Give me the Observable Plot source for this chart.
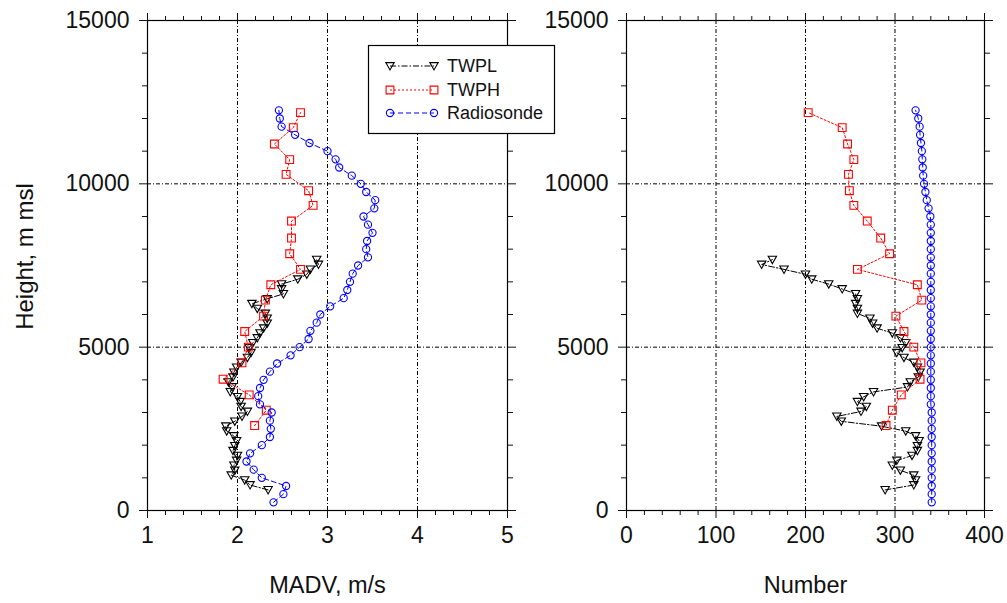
<!DOCTYPE html>
<html><head><meta charset="utf-8">
<script src="https://cdn.jsdelivr.net/npm/d3@7"></script>
<script src="https://cdn.jsdelivr.net/npm/@observablehq/plot@0.6"></script>
<style>
body{margin:0;background:#fff;}
#wrap{position:relative;width:1007px;height:603px;overflow:hidden;font-family:"Liberation Sans",Arial,sans-serif;}
#wrap svg{position:absolute;top:0;}
</style></head><body><div id="wrap"></div>
<script>
// ---- TWPL (black, triangles) ----
const twplHeight = [630,780,930,1080,1230,1380,1530,1680,1830,1980,2130,2280,2430,2580,2730,2880,3030,3180,3330,3480,3630,3780,3930,4080,4230,4380,4530,4680,4830,4980,5130,5280,5430,5580,5730,5880,6030,6180,6330,6480,6630,6780,6930,7080,7230,7380,7530,7680];
const twplMadv = [2.34,2.14,2.08,1.93,1.97,1.96,1.99,2.00,1.95,1.97,1.99,1.96,1.88,1.87,1.97,2.05,2.11,2.04,2.03,2.00,1.92,1.94,1.90,1.95,1.96,1.99,2.04,2.11,2.15,2.13,2.17,2.22,2.25,2.29,2.33,2.33,2.31,2.22,2.16,2.33,2.51,2.49,2.49,2.67,2.77,2.81,2.90,2.88];
const twplNumber = [289,321,323,321,306,297,302,319,325,325,327,323,312,285,240,235,262,268,258,265,276,314,317,326,328,325,321,310,302,308,312,306,297,280,275,272,258,258,256,258,256,241,226,207,200,176,151,163];
// ---- TWPH (red, squares) ----
const twphHeight = [2600,3070,3540,4020,4520,5000,5480,5950,6440,6910,7380,7860,8340,8860,9340,9790,10290,10740,11220,11720,12180];
const twphMadv = [2.19,2.32,2.13,1.84,2.05,2.12,2.08,2.29,2.31,2.37,2.70,2.58,2.60,2.60,2.84,2.79,2.54,2.58,2.41,2.62,2.70];
const twphNumber = [290,297,307,328,329,321,310,301,330,325,258,294,284,269,254,249,248,254,247,241,203];
// ---- Radiosonde (blue, circles) ----
const sondeHeight = [250,500,750,1000,1250,1500,1750,2000,2250,2500,2750,3000,3250,3500,3750,4000,4250,4500,4750,5000,5250,5500,5750,6000,6250,6500,6750,7000,7250,7500,7750,8000,8250,8500,8750,9000,9250,9500,9750,10000,10250,10500,10750,11000,11250,11500,11750,12000,12250];
const sondeMadv = [2.40,2.51,2.54,2.27,2.18,2.10,2.14,2.27,2.36,2.37,2.36,2.38,2.25,2.23,2.25,2.29,2.36,2.44,2.59,2.69,2.79,2.81,2.88,2.92,3.03,3.18,3.22,3.25,3.28,3.34,3.45,3.43,3.44,3.50,3.45,3.40,3.52,3.53,3.43,3.37,3.27,3.13,3.09,3.00,2.80,2.64,2.49,2.47,2.46];
const sondeNumber = [341,341,341,341,341,341,341,341,341,341,341,341,340,340,340,340,340,340,340,340,340,340,340,340,340,340,340,340,340,340,340,340,340,340,340,339.5,337.5,335.5,334,332.5,331.5,331,330.5,330,329,328,327.5,326,323];

// ---- ticks ----
const yMajor = [0,5000,10000,15000];
const yMinor = [1000,2000,3000,4000,6000,7000,8000,9000,11000,12000,13000,14000];
const yGrid = [5000,10000];
const madvMajor = [1,2,3,4,5];
const madvMinor = [1.2,1.4,1.6,1.8,2.2,2.4,2.6,2.8,3.2,3.4,3.6,3.8,4.2,4.4,4.6,4.8];
const madvGrid = [2,3,4];
const numMajor = [0,100,200,300,400];
const numMinor = [20,40,60,80,120,140,160,180,220,240,260,280,320,340,360,380];
const numGrid = [100,200,300];

const seriesNames = ["TWPL","TWPH","Radiosonde"];

const twpl = twplHeight.map((h,i)=>({h, madv: twplMadv[i], n: twplNumber[i]}));
const twph = twphHeight.map((h,i)=>({h, madv: twphMadv[i], n: twphNumber[i]}));
const sonde = sondeHeight.map((h,i)=>({h, madv: sondeMadv[i], n: sondeNumber[i]}));

const triDown = {draw(ctx, size){ const r = Math.sqrt(size/Math.PI); ctx.moveTo(-r,-0.8*r); ctx.lineTo(r,-0.8*r); ctx.lineTo(0,0.95*r); ctx.closePath(); }};

const styles = [
  {data: twpl, stroke: "#000", dash: "6,2,1.5,2", symbol: triDown, r: 4.2},
  {data: twph, stroke: "#ff0000", dash: "2,2", symbol: "square", r: 4.4},
  {data: sonde, stroke: "#0000ff", dash: "5,3", symbol: "circle", r: 3.6}
];

const grid = {stroke: "#000", strokeOpacity: 1, strokeWidth: 1, strokeDasharray: "4,2,1,2"};
const font = '"Liberation Sans", Arial, sans-serif';

function panel({xKey, xDomain, xMajor, xMinor, xGrid, xLabel, yLabel, width, marginLeft, marginRight}) {
  const marks = [
    Plot.gridX(xGrid, grid),
    Plot.gridY(yGrid, grid),
  ];
  for (const s of styles) {
    marks.push(Plot.line(s.data, {x: xKey, y: "h", stroke: s.stroke, strokeWidth: 1, strokeDasharray: s.dash}));
    marks.push(Plot.dot(s.data, {x: xKey, y: "h", symbol: s.symbol, r: s.r, stroke: s.stroke, fill: "none", strokeWidth: 1.1}));
  }
  marks.push(
    Plot.frame({stroke: "#000", strokeWidth: 1.2}),
    Plot.axisX(xMajor, {anchor: "bottom", tickSize: 8, tickPadding: 8, fontSize: 23, label: null, tickFormat: d => String(d)}),
    Plot.axisX(xMinor, {anchor: "bottom", tickSize: 5, tickFormat: () => "", label: null}),
    Plot.axisX(xMajor, {anchor: "top", tickSize: 8, tickFormat: () => "", label: null}),
    Plot.axisX(xMinor, {anchor: "top", tickSize: 5, tickFormat: () => "", label: null}),
    Plot.axisY(yMajor, {anchor: "left", tickSize: 8, tickPadding: 10, fontSize: 23, label: null, tickFormat: d => String(d)}),
    Plot.axisY(yMinor, {anchor: "left", tickSize: 5, tickFormat: () => "", label: null}),
    Plot.axisY(yMajor, {anchor: "right", tickSize: 8, tickFormat: () => "", label: null}),
    Plot.axisY(yMinor, {anchor: "right", tickSize: 5, tickFormat: () => "", label: null}),
    Plot.text([xLabel], {frameAnchor: "bottom", dy: 82, fontSize: 23.5, fill: "#111"})
  );
  if (yLabel) marks.push(Plot.text([yLabel], {frameAnchor: "left", textAnchor: "middle", dx: -122, dy: -9, rotate: -90, fontSize: 24, fill: "#111"}));
  return Plot.plot({
    width, height: 603,
    marginLeft, marginRight, marginTop: 20, marginBottom: 93,
    x: {domain: xDomain},
    y: {domain: [0, 15000]},
    style: {fontFamily: font, fontSize: "23px", color: "#111", background: "transparent", overflow: "visible"},
    marks
  });
}

const wrap = document.getElementById("wrap");
const left = panel({xKey: "madv", xDomain: [1,5], xMajor: madvMajor, xMinor: madvMinor, xGrid: madvGrid, xLabel: "MADV, m/s", yLabel: "Height, m msl", width: 540, marginLeft: 147, marginRight: 33});
left.style.left = "0px";
wrap.appendChild(left);
const right = panel({xKey: "n", xDomain: [0,400], xMajor: numMajor, xMinor: numMinor, xGrid: numGrid, xLabel: "Number", yLabel: null, width: 487, marginLeft: 106, marginRight: 23});
right.style.left = "520px";
wrap.appendChild(right);

// ---- legend ----
const lg = d3.select(wrap).append("svg").attr("width", 1007).attr("height", 603).style("left", "0px").style("pointer-events", "none");
lg.append("rect").attr("x", 368.5).attr("y", 45.5).attr("width", 186).attr("height", 88).attr("fill", "#fff").attr("stroke", "#000").attr("stroke-width", 1.2);
const rowsY = [66, 90, 113];
styles.forEach((s, i) => {
  const g = lg.append("g").attr("transform", `translate(0,${rowsY[i]})`);
  g.append("line").attr("x1", 390).attr("x2", 434).attr("y1", 0).attr("y2", 0).attr("stroke", s.stroke).attr("stroke-dasharray", s.dash);
  const sym = typeof s.symbol === "string" ? (s.symbol === "square" ? d3.symbolSquare : d3.symbolCircle) : s.symbol;
  const path = d3.symbol(sym, s.r * s.r * Math.PI)();
  [390, 434].forEach(x => g.append("path").attr("d", path).attr("transform", `translate(${x},0)`).attr("fill", "none").attr("stroke", s.stroke).attr("stroke-width", 1.1));
  g.append("text").attr("x", 447).attr("y", 0).attr("dy", "0.35em").attr("font-family", font).attr("font-size", 18).attr("fill", "#111").text(seriesNames[i]);
});
</script></body></html>
